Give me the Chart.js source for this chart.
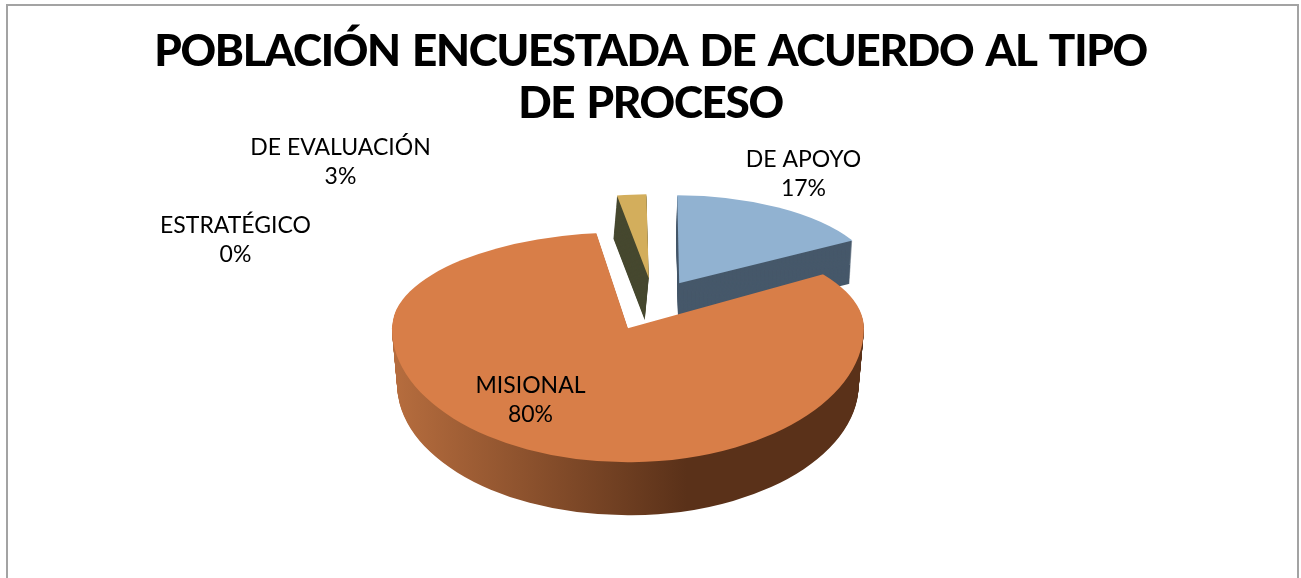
<!DOCTYPE html>
<html>
<head>
<meta charset="utf-8">
<script src="https://cdn.jsdelivr.net/npm/chart.js@4/dist/chart.umd.min.js"></script>
<style>
  html, body { margin: 0; padding: 0; background: #fff; overflow: hidden; }
  #frame { position: absolute; left: 6px; top: 4px; width: 1289px; height: 600px; border: 2px solid #a3a3a3; }
  canvas { position: absolute; left: 0; top: 0; }
</style>
</head>
<body>
<div id="frame"></div>
<canvas id="pie" width="1301" height="578"></canvas>
<script>
// Sample data
const categories = ['DE APOYO', 'MISIONAL', 'ESTRATÉGICO', 'DE EVALUACIÓN'];
const percentages = [17, 80, 0, 3];
const titleLines = ['POBLACIÓN ENCUESTADA DE ACUERDO AL TIPO', 'DE PROCESO'];

const topColors = ['#91b2d1', '#d87e48', '#a5a5a5', '#d3ae5c'];
const explode = [114, 92, 0, 109];

// how each slice is flattened into the tilted 3D look
// ryRay only steers the cut edges, the rim stays on rx/ryTop
// lean shears the part above the tip (perspective)
const views = [
    { rx: 200, ryTop: 88, ryBot: 88, lean: -0.035, nudge: [1, 2], depth: [-1, 43], shrink: 0.01, side: ['#46586a'] },
    { rx: 236, ryTop: 96, ryBot: 134, ryRay: 130, lean: 0.07, nudge: [-4, 4], depth: [0, 56], shrink: 0.022, side: ['#bb7040', '#5a3119', '#5a3119'] },
    null,
    { rx: 225, ryTop: 84, ryBot: 84, lean: 0.048, nudge: [3, -5], depth: [-4, 42], shrink: 0.01, side: ['#46482f'] }
];
const drawOrder = [3, 0, 1];

// label centre relative to the pie centre
const labelShift = [[153, -128], [-120, 98], [-415, -62], [-310, -140]];

function drawPart(ctx, el, view, color, t, upper) {
    // one copy of the arc, upper or lower part of the rim
    const k = 1 - view.shrink * t;
    const o = el.options.offset / 4;
    const h = (el.startAngle + el.endAngle) / 2;
    const fix = 1 - Math.sin(Math.min(Math.PI, el.circumference));
    const r = el.outerRadius + o * fix;
    const sx = view.rx * k / r;
    const sy = (upper ? (view.ryRay || view.ryTop) : view.ryBot) * k / r;
    const tipX = el.x + view.nudge[0] + Math.cos(h) * o * view.rx / r + view.depth[0] * t;
    const tipY = el.y + view.nudge[1] + Math.sin(h) * o * view.ryBot / r + view.depth[1] * t;
    const split = Math.round(tipY);
    ctx.save();
    ctx.beginPath();
    if (upper) ctx.rect(0, 0, 1301, split);
    else ctx.rect(0, split, 1301, 578 - split);
    ctx.clip();
    if (upper && view.ryRay) {
        ctx.beginPath();
        ctx.ellipse(tipX, tipY, view.rx * k, view.ryTop * k, 0, 0, Math.PI * 2);
        ctx.clip();
    }
    const ox = tipX - Math.cos(h) * o * sx;
    const oy = tipY - Math.sin(h) * o * sy;
    ctx.translate(tipX, tipY);
    if (upper) ctx.transform(1, 0, -view.lean, 1, 0, 0);
    ctx.translate(ox - tipX, oy - tipY);
    ctx.scale(sx, sy);
    ctx.translate(-el.x, -el.y);
    let fill = color;
    if (Array.isArray(color)) {
        // side gradient runs left to right on screen
        const g = ctx.createLinearGradient(el.x + (397 - ox) / sx, 0, el.x + (705 - ox) / sx, 0);
        g.addColorStop(0, color[0]);
        g.addColorStop(1, color[1]);
        fill = g;
    }
    const copy = Object.create(el);
    copy.options = Object.assign({}, el.options, { backgroundColor: fill, borderWidth: 0 });
    copy.draw(ctx);
    ctx.restore();
}

const tiltPlugin = {
    id: 'tilt',
    beforeDraw(chart) {
        // for the title
        chart.ctx.letterSpacing = '-1.3px';
        chart.ctx.wordSpacing = '3px';
    },
    beforeDatasetsDraw(chart) {
        const ctx = chart.ctx;
        ctx.letterSpacing = '0px';
        ctx.wordSpacing = '0px';
        const arcs = chart.getDatasetMeta(0).data;
        drawOrder.forEach(i => {
            const el = arcs[i];
            const view = views[i];
            const steps = Math.round(view.depth[1]);
            const side = view.side.length > 1 ? view.side : view.side[0];
            for (let s = steps; s > 0; s--) {
                drawPart(ctx, el, view, side, s / steps, true);
                drawPart(ctx, el, view, side, s / steps, false);
            }
            drawPart(ctx, el, view, el.options.backgroundColor, 0, true);
            drawPart(ctx, el, view, el.options.backgroundColor, 0, false);
        });
        return false;
    },
    afterDraw(chart) {
        const ctx = chart.ctx;
        const el = chart.getDatasetMeta(0).data[0];
        ctx.save();
        ctx.fillStyle = '#000';
        ctx.font = '23px Lato';
        ctx.textAlign = 'center';
        ctx.textBaseline = 'middle';
        categories.forEach((name, i) => {
            const x = el.x + labelShift[i][0];
            const y = el.y + labelShift[i][1];
            ctx.fillText(name, x, y - 14);
            ctx.fillText(percentages[i] + '%', x, y + 15);
        });
        ctx.restore();
    }
};

// Get the canvas element
const canvas = document.getElementById('pie');

// Initialize the chart
const myChart = new Chart(canvas, {
    type: 'pie',
    data: {
        labels: categories,
        datasets: [{
            data: percentages,
            backgroundColor: topColors,
            offset: explode,
            borderWidth: 0
        }]
    },
    options: {
        responsive: false,
        animation: false,
        rotation: 0,
        layout: { padding: { bottom: 118 } },
        plugins: {
            legend: { display: false },
            tooltip: { enabled: false },
            title: {
                display: true,
                text: titleLines,
                color: '#000',
                font: { family: 'Lato', size: 44, weight: '900', lineHeight: 1.2 },
                padding: { top: 25, bottom: 13 }
            }
        }
    },
    plugins: [tiltPlugin]
});
</script>
</body>
</html>
